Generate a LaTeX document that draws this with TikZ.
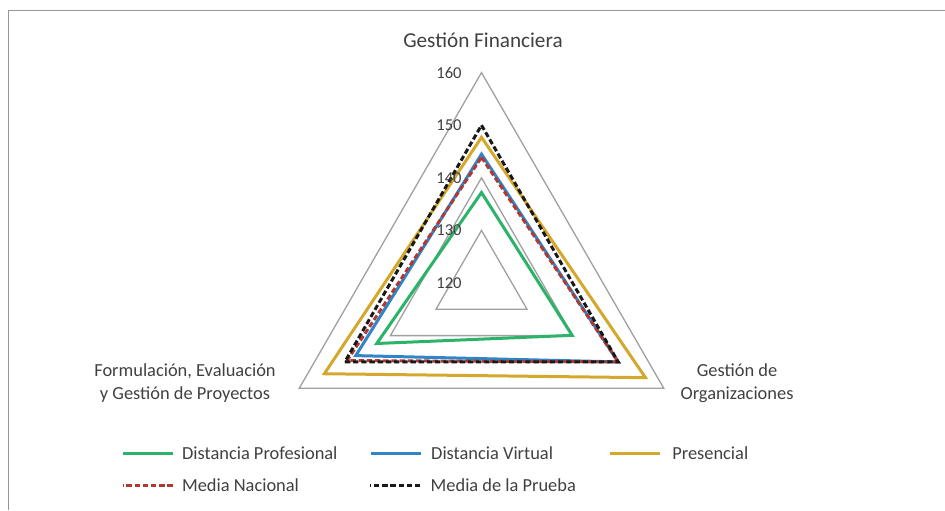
\documentclass[tikz,border=0pt]{standalone}
\usepackage{fontspec}
\setmainfont{Carlito}
\usepackage{xcolor}
\usetikzlibrary{positioning}

\definecolor{txtgray}{RGB}{64,64,64}
\definecolor{gridgray}{RGB}{160,160,160}
\definecolor{framegray}{RGB}{150,150,150}
\definecolor{verde}{RGB}{44,178,105}
\definecolor{azul}{RGB}{46,134,200}
\definecolor{oro}{RGB}{212,168,44}
\definecolor{rojo}{RGB}{178,56,50}
\definecolor{negro}{RGB}{25,25,25}

% radius of a value on the radar (120 at the centre)
\newcommand{\rad}[1]{{(#1-120)*5.26}}
\newcommand{\serie}[4]{\draw[#1] (90:\rad{#2}) -- (-30:\rad{#3}) -- (210:\rad{#4}) -- cycle;}

\begin{document}
\begin{tikzpicture}[
  x=0.5pt, y=0.5pt,
  lbl/.style={font=\fontsize{9.2}{11.5}\selectfont, text=txtgray, align=center, inner sep=0pt},
  tick/.style={font=\fontsize{8.3}{10}\selectfont, text=txtgray, anchor=east, inner sep=0pt},
  legtxt/.style={font=\fontsize{9.2}{11}\selectfont, text=txtgray, anchor=west, inner sep=0pt},
  gridline/.style={draw=gridgray, line width=0.65pt},
  serieline/.style={line width=1.5pt, line join=miter},
  dashline/.style={serieline, dash pattern=on 2.7pt off 1.4pt}
]
  \useasboundingbox (0,0) rectangle (945,510);
  \draw[framegray, line width=0.8pt] (8.5,0) -- (8.5,499.5) -- (945,499.5);

  \begin{scope}[shift={(481.5,227)}]
    % grid
    \foreach \v in {130,140,160}
      \draw[gridline] (90:\rad{\v}) -- (-30:\rad{\v}) -- (210:\rad{\v}) -- cycle;
    % series
    \serie{serieline, verde}{137.2}{139.9}{143.0}
    \serie{serieline, azul}{144.5}{150.0}{147.6}
    \serie{serieline, oro}{147.7}{156.0}{154.5}
    \serie{dashline, rojo}{143.9}{150.0}{149.5}
    \serie{dashline, negro}{150}{150}{150}
    % scale
    \foreach \v in {120,130,...,160}
      \node[tick] (t\v) at (-19.5,\rad{\v}) {\v};
  \end{scope}

  % axis labels
  \node[lbl, font=\fontsize{10.6}{12}\selectfont] (gfin) at (483,470) {Gestión Financiera};
  \node[lbl] (gorg) at (737,127) {Gestión de\\Organizaciones};
  \node[lbl] (form) at (185,127) {Formulación, Evaluación\\y Gestión de Proyectos};

  % legend
  \node[legtxt] (lprof) at (181.7,57) {Distancia Profesional};
  \node[legtxt] (lvirt) at (430.8,57) {Distancia Virtual};
  \node[legtxt] (lpres) at (671.9,57) {Presencial};
  \node[legtxt] (lnac) at (181.7,25) {Media Nacional};
  \node[legtxt] (lprue) at (430.3,25) {Media de la Prueba};

  \draw[serieline, verde] ([xshift=-4.5pt]lprof.west) -- ++(-50,0);
  \draw[serieline, azul] ([xshift=-5pt]lvirt.west) -- ++(-50,0);
  \draw[serieline, oro] ([xshift=-6pt]lpres.west) -- ++(-50,0);
  \draw[dashline, rojo] ([xshift=-4.5pt]lnac.west) -- ++(-50,0);
  \draw[dashline, negro] ([xshift=-5pt]lprue.west) -- ++(-50,0);
\end{tikzpicture}
\end{document}
